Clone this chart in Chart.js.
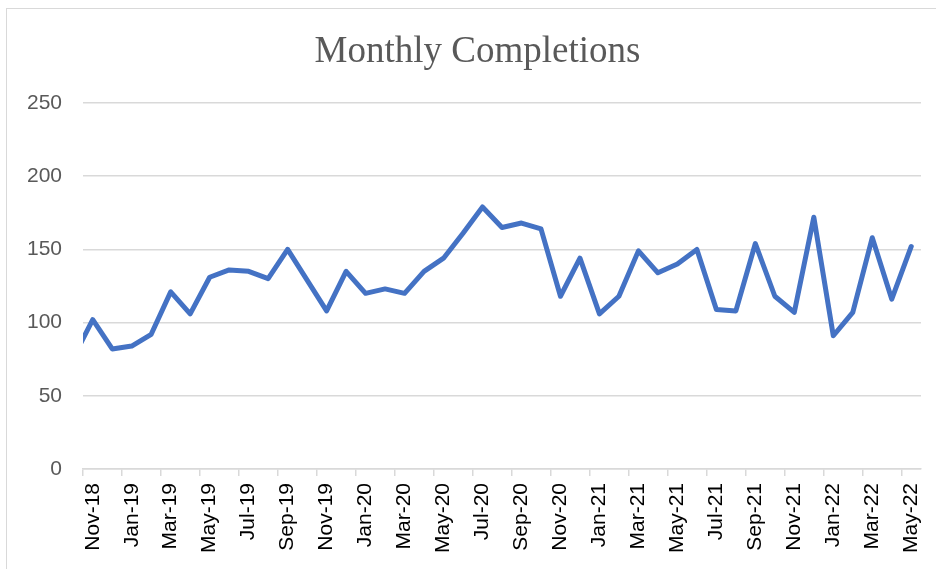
<!DOCTYPE html>
<html lang="en">
<head>
  <meta charset="UTF-8" />
  <title>Monthly Completions</title>
  <script src="https://cdn.jsdelivr.net/npm/chart.js"></script>
  <style>
    html, body {
      margin: 0;
      padding: 0;
      background: #fff;
      overflow: hidden;
    }
    .frame {
      position: absolute;
      left: 6px;
      top: 8px;
      width: 960px;
      height: 600px;
      border: 1px solid #d9d9d9;
    }
    .chart-box {
      position: absolute;
      left: 0;
      top: 0;
      width: 936px;
      height: 569px;
    }
  </style>
</head>
<body>
  <div class="frame"></div>
  <div class="chart-box"><canvas id="chart"></canvas></div>
<script>
  // Oct-18 is only there so the first segment runs in from the left edge (it is clipped)
  const months = [
    'Oct-18', 'Nov-18', 'Dec-18',
    'Jan-19', 'Feb-19', 'Mar-19', 'Apr-19', 'May-19', 'Jun-19', 'Jul-19', 'Aug-19', 'Sep-19', 'Oct-19', 'Nov-19', 'Dec-19',
    'Jan-20', 'Feb-20', 'Mar-20', 'Apr-20', 'May-20', 'Jun-20', 'Jul-20', 'Aug-20', 'Sep-20', 'Oct-20', 'Nov-20', 'Dec-20',
    'Jan-21', 'Feb-21', 'Mar-21', 'Apr-21', 'May-21', 'Jun-21', 'Jul-21', 'Aug-21', 'Sep-21', 'Oct-21', 'Nov-21', 'Dec-21',
    'Jan-22', 'Feb-22', 'Mar-22', 'Apr-22', 'May-22'
  ];

  const completions = [
    76, 102, 82,
    84, 92, 121, 106, 131, 136, 135, 130, 150, 129, 108, 135,
    120, 123, 120, 135, 144, 161, 179, 165, 168, 164, 118, 144,
    106, 118, 149, 134, 140, 150, 109, 108, 154, 118, 107, 172,
    91, 107, 158, 116, 152
  ];

  const yTicks = [0, 50, 100, 150, 200, 250];

  const ctx = document.getElementById('chart').getContext('2d');

  new Chart(ctx, {
    type: 'line',
    data: {
      labels: months,
      datasets: [{
        label: 'Completions',
        data: completions,
        borderColor: '#4472C4',
        backgroundColor: '#4472C4',
        borderWidth: 5,
        borderJoinStyle: 'round',
        borderCapStyle: 'round',
        pointRadius: 0,
        tension: 0,
        fill: false
      }]
    },
    options: {
      responsive: true,
      maintainAspectRatio: false,
      animation: false,
      layout: {
        padding: { left: 24, right: 5, top: 0, bottom: 0 }
      },
      plugins: {
        legend: { display: false },
        tooltip: { enabled: false },
        title: {
          display: true,
          text: 'Monthly Completions',
          color: '#595959',
          font: { family: "'Liberation Serif', serif", size: 37, weight: 'normal' },
          padding: { top: 30, bottom: 28.6 }
        }
      },
      scales: {
        x: {
          type: 'category',
          min: 'Nov-18',
          offset: true,
          afterFit: (s) => {
            s.height = 100;
            s.paddingLeft = 0;
            s.paddingRight = 15; // keeps the plot's right edge at 921
          },
          grid: {
            offset: true,
            drawOnChartArea: false,
            drawTicks: true,
            tickLength: 7,
            lineWidth: 1.5,
            color: (c) => (c.index % 2 === 0 ? '#d9d9d9' : 'rgba(0,0,0,0)')
          },
          border: { display: true, color: '#d9d9d9', width: 1.5 },
          ticks: {
            autoSkip: false,
            minRotation: 90,
            maxRotation: 90,
            padding: 7,
            color: '#000',
            font: { family: "'Liberation Sans', sans-serif", size: 21 },
            callback: function (value) {
              return value % 2 === 1 ? this.getLabelForValue(value) : '';
            }
          }
        },
        y: {
          min: 0,
          max: 250,
          afterFit: (s) => { s.width = 59; },
          afterBuildTicks: (s) => { s.ticks = yTicks.map(v => ({ value: v })); },
          grid: {
            drawTicks: false,
            color: '#d9d9d9',
            lineWidth: 1.5
          },
          border: { display: false },
          ticks: {
            padding: 21,
            color: '#595959',
            font: { family: "'Liberation Sans', sans-serif", size: 21 }
          }
        }
      }
    }
  });
</script>
</body>
</html>
